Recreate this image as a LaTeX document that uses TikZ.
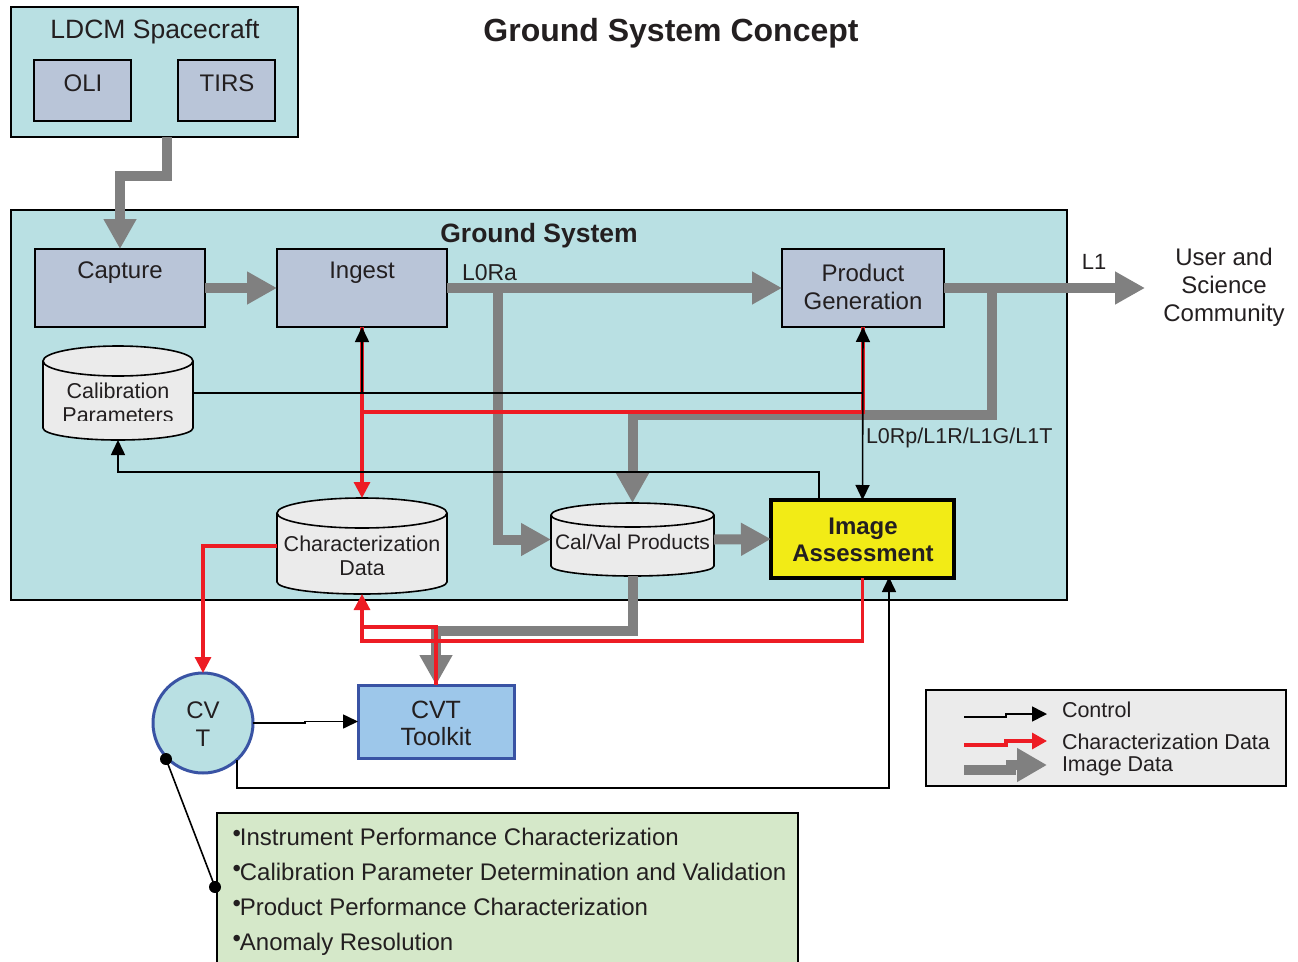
\documentclass[tikz,border=0pt]{standalone}
\usepackage{fontspec}
\setmainfont{Liberation Sans}
\usetikzlibrary{arrows.meta,calc}

\definecolor{cyanbg}{RGB}{185,224,227}
\definecolor{unitfill}{RGB}{185,197,216}
\definecolor{imggray}{RGB}{128,128,128}
\definecolor{chrred}{RGB}{237,28,36}
\definecolor{iayellow}{RGB}{242,235,22}
\definecolor{tkfill}{RGB}{157,199,234}
\definecolor{tkblue}{RGB}{57,83,164}
\definecolor{notegreen}{RGB}{213,232,201}
\definecolor{dbfill}{RGB}{235,235,235}
\definecolor{txt}{RGB}{35,31,32}

% database cylinder drawn round an (invisible) node: name, half width, top ry, bottom ry
\newcommand\drawdb[4]{%
  \draw[dbbody] ([yshift=-#3pt]#1.north west)
      arc[start angle=180,end angle=0,x radius=#2pt,y radius=#3pt]
      -- ([yshift=#4pt]#1.south east)
      arc[start angle=0,end angle=-180,x radius=#2pt,y radius=#4pt] -- cycle;
  \draw[dbline] ([yshift=-#3pt]#1.north west)
      arc[start angle=180,end angle=360,x radius=#2pt,y radius=#3pt];
}
\newcommand\fsz[2]{\fontsize{#1pt}{#2pt}\selectfont}
% small raised bullet drawn as a rule-free dot
\newcommand\bul{\raisebox{9.5pt}{\rule{0pt}{0pt}\kern0.5pt\smash{\fontsize{24pt}{24pt}\selectfont\raisebox{-6pt}{\textbullet}}}\kern-1pt}

\begin{document}
\begin{tikzpicture}[x=1pt,y=-1pt,
  every node/.style={outer sep=0pt,inner sep=0pt,text=txt},
  panel/.style={draw=black,line width=1.6pt,fill=cyanbg},
  unit/.style={draw=black,line width=2pt,fill=unitfill},
  dbbody/.style={draw=black,line width=1.6pt,fill=dbfill},
  dbline/.style={draw=black,line width=1.6pt},
  img/.style={draw=imggray,line width=10pt,line cap=butt,line join=miter},
  imgto/.style={img,-{Triangle[width=31pt,length=30pt]}},
  chr/.style={draw=chrred,line width=3.2pt,line join=miter},
  chrto/.style={chr,-{Triangle[width=16pt,length=16pt]}},
  ctl/.style={draw=black,line width=1.6pt},
  ctlto/.style={ctl,-{Triangle[width=14pt,length=15pt]}},
  t21/.style={font=\fsz{21.5}{24},align=center},
  t24/.style={font=\fsz{24}{28},align=center},
  tb24/.style={font=\bfseries\fsz{24}{27},align=center},
]
\useasboundingbox (0,0) rectangle (1298,961);

% ---------- panels ----------
\node[panel,minimum width=287pt,minimum height=130pt] (sc) at (154.5,72) {};
\node[font=\fsz{26.5}{30}] (sct) at (155,32) {LDCM Spacecraft};
\node[unit,minimum width=97pt,minimum height=61pt] (oli) at (82.5,90.5) {};
\node[t24] (olit) at (83,83) {OLI};
\node[unit,minimum width=97pt,minimum height=61pt] (tirs) at (226.5,90.5) {};
\node[t24] (tirst) at (227,83) {TIRS};

\node[font=\bfseries\fsz{32}{36}] (title) at (671,33) {Ground System Concept};

\node[panel,minimum width=1056pt,minimum height=390pt] (gs) at (539,405) {};
\node[font=\bfseries\fsz{26.5}{30}] (gst) at (539,236) {Ground System};

% ---------- processing units ----------
\node[unit,minimum width=170pt,minimum height=78pt] (capture) at (120,288) {};
\node[t24] (capturet) at (120,273) {Capture};
\node[unit,minimum width=170pt,minimum height=78pt] (ingest) at (362,288) {};
\node[t24] (ingestt) at (362,273) {Ingest};
\node[unit,minimum width=162pt,minimum height=78pt] (pg) at (863,288) {};
\node[t24] (pgt) at (863,287) {Product\\Generation};

\node[draw=black,line width=4pt,fill=iayellow,minimum width=183pt,minimum height=78pt] (ia) at (862.5,539) {};
\node[tb24] (iat) at (863,540) {Image\\Assessment};

% ---------- data stores ----------
\node[minimum width=150pt,minimum height=94pt] (calib) at (118,393) {};
\drawdb{calib}{75}{15}{12}
\begin{scope}
  \clip (43,346) rectangle (193,420);
  \node[t21] (calibt) at (118,403) {Calibration\\Parameters};
\end{scope}

\node[minimum width=170pt,minimum height=96pt] (chard) at (362,546) {};
\drawdb{chard}{85}{15}{12}
\begin{scope}
  \clip (277,498) rectangle (447,574);
  \node[t21] (chardt) at (362,556) {Characterization\\Data};
\end{scope}

\node[minimum width=163pt,minimum height=73pt] (calval) at (632.5,539.5) {};
\drawdb{calval}{81.5}{12}{10}
\node[font=\fsz{21}{24}] (calvalt) at (632.5,542) {Cal/Val Products};

% ---------- CVT ----------
\node[circle,draw=tkblue,line width=3pt,fill=cyanbg,minimum size=100pt] (cvt) at (203,723) {};
\node[t24] (cvtt) at (203,724) {CV\\T};
\node[draw=tkblue,line width=3pt,fill=tkfill,minimum width=156pt,minimum height=73pt] (toolkit) at (436,721.5) {};
\node[font=\fsz{25}{27},align=center] (toolkitt) at (436,723) {CVT\\Toolkit};

% ---------- outside ----------
\node[t24] (user) at (1224,287) {User and\\Science\\Community};
\coordinate (l1end) at (1145,288);
\node[font=\fsz{22}{26}] (l1t) at (1094,262) {L1};
\node[font=\fsz{23}{26},anchor=west] (l0rat) at (462,273) {L0Ra};
\node[font=\fsz{21.5}{24},anchor=west] (l1xt) at (866,438) {L0Rp/L1R/L1G/L1T};

% ---------- image data ----------
\draw[imgto] ([xshift=12.5pt]sc.south) -- ++(0,39) -| (capture.north);
\draw[imgto] (capture.east) -- (ingest.west);
\draw[imgto] (ingest.east) -- (pg.west);
\coordinate (l0rabr) at (498,288);
\draw[imgto] (l0rabr) |- (calval.west);
\draw[imgto] (pg.east) -- (l1end);
\coordinate (l1br) at (992,288);
\draw[imgto] (l1br) -- ++(0,127) -| (calval.north);
\draw[imgto] (calval.east) -- (ia.west);
\draw[imgto] (calval.south) -- ++(0,55) -| (toolkit.north);

% ---------- characterization data ----------
\coordinate (redjoin) at (362,412);
\draw[chr] (pg.south) |- (redjoin);
\draw[chrto] (ingest.south) -- (chard.north);
\draw[chrto] (chard.west) -| (cvt.north);
\draw[chrto] (ia.south) -- ++(0,63) -| (chard.south);
\coordinate (redjoin2) at (362,627);
\draw[chr] (toolkit.north) |- (redjoin2);

% ---------- control ----------
\coordinate (ctlend) at (863,393);
\draw[ctl] (calib.east) -- (ctlend);
\coordinate (ctlin) at (362,393);
\draw[ctlto] (ctlin) -- (ingest.south);
\draw[ctl,{Triangle[width=14pt,length=15pt]}-{Triangle[width=14pt,length=15pt]}] (pg.south) -- (ia.north);
\coordinate (iaout) at (819,500);
\draw[ctlto] (iaout) -- ++(0,-28) -| (calib.south);
\draw[ctlto] (cvt.east) -- ++(52,0) |- (toolkit.west);
\coordinate (iaret) at (889,577);
\draw[ctlto] (cvt.-47) |- (889,788) -- (iaret);

% ---------- notes ----------
\node[draw=black,line width=1.6pt,fill=notegreen,minimum width=581pt,minimum height=170pt] (notes) at (507.5,898) {};
\node[font=\fsz{24}{26},anchor=base west] (n1) at (232,845) {\bul Instrument Performance Characterization};
\node[font=\fsz{24}{26},anchor=base west] (n2) at (232,880) {\bul Calibration Parameter Determination and Validation};
\node[font=\fsz{24}{26},anchor=base west] (n3) at (232,915) {\bul Product Performance Characterization};
\node[font=\fsz{24}{26},anchor=base west] (n4) at (232,950) {\bul Anomaly Resolution};
\coordinate (cvtdot) at (166,759);
\coordinate (notedot) at (215,887);
\draw[ctl] (cvtdot) -- (notedot);
\fill[black] (cvtdot) circle[radius=6pt];
\fill[black] (notedot) circle[radius=6pt];

% ---------- legend ----------
\node[draw=black,line width=2.4pt,fill=dbfill,minimum width=360pt,minimum height=96pt] (legend) at (1106,738) {};
\draw[ctl,-{Triangle[width=15pt,length=15pt]}] (964,717) -- (1006,717) -- (1006,714) -- (1047,714);
\draw[chr,-{Triangle[width=16pt,length=15pt]}] (964,745) -- (1006,745) -- (1006,741) -- (1047,741);
\draw[img,-{Triangle[width=32pt,length=30pt]}] (964,770) -- (1011,770) -- (1011,765) -- (1047,765);
\node[font=\fsz{21.5}{24},anchor=west] (lg1) at (1062,710) {Control};
\node[font=\fsz{21.5}{24},anchor=west] (lg2) at (1062,742) {Characterization Data};
\node[font=\fsz{21.5}{24},anchor=west] (lg3) at (1062,766) {Image Data};
\end{tikzpicture}
\end{document}
